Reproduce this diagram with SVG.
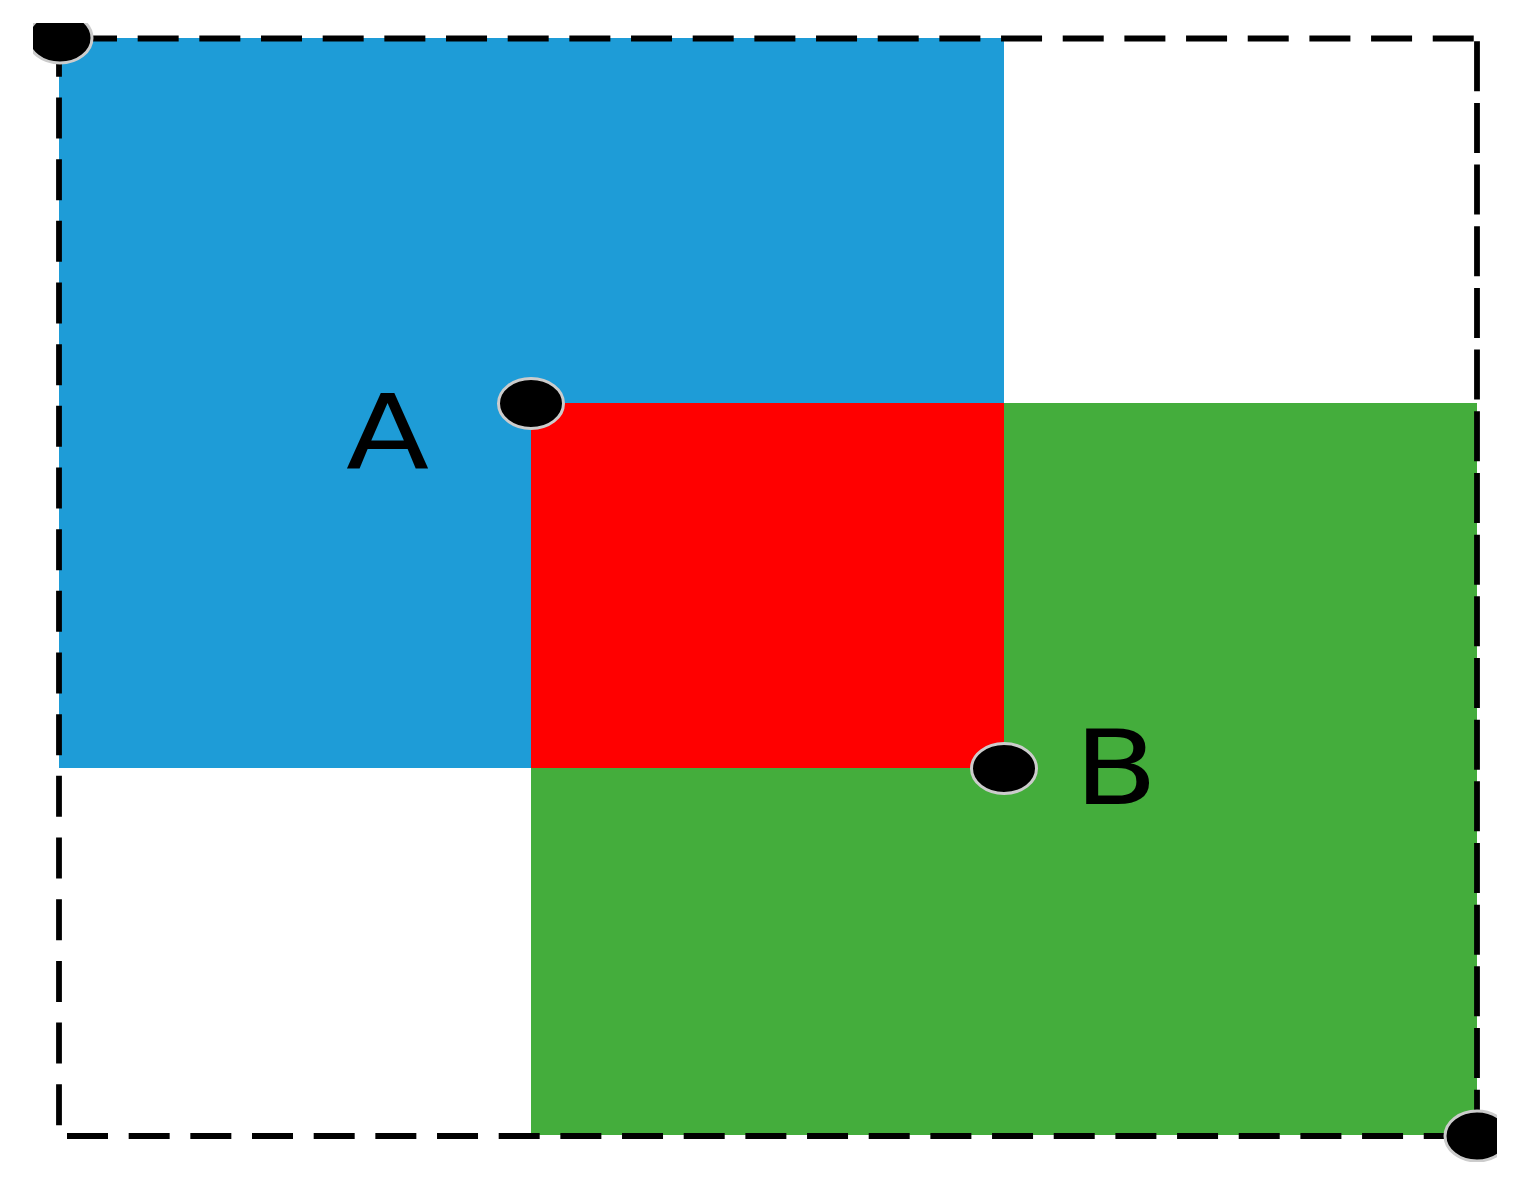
<svg xmlns="http://www.w3.org/2000/svg" width="1517" height="1186" viewBox="0 0 1517 1186">
<style>
.lbl{font-family:"DejaVu Sans",sans-serif;font-size:103px;fill:#000;text-anchor:middle}
.dot{fill:#000;stroke:#cccccc;stroke-width:3}
.dash{fill:none;stroke:#000;stroke-width:5.8;stroke-dasharray:41 20.67}
</style>
<defs>
<clipPath id="c"><rect x="33" y="23" width="1464" height="1139"/></clipPath>
</defs>
<rect width="1517" height="1186" fill="#fff"/>
<g id="blue"><rect x="59" y="38" width="945" height="730" fill="#1E9CD7"/></g>
<g id="green"><path d="M1004 403H1477V1135H531V768H1004Z" fill="#44AD3C"/></g>
<g id="red"><rect x="531" y="403" width="473" height="365" fill="#FF0000"/></g>
<g id="frame">
<line class="dash" x1="59" y1="38.5" x2="1477" y2="38.5" style="stroke-dashoffset:44.67"/>
<line class="dash" x1="59" y1="38.5" x2="59" y2="1136" style="stroke-dashoffset:2.67"/>
<line class="dash" x1="59" y1="1136" x2="1477" y2="1136" style="stroke-dashoffset:53.67"/>
<line class="dash" x1="1477" y1="38.5" x2="1477" y2="1136" style="stroke-dasharray:50 11.67;stroke-dashoffset:58.9"/>
</g>
<g id="connectors"></g>
<g id="dots" clip-path="url(#c)">
<ellipse class="dot" cx="60" cy="38" rx="32" ry="25"/>
<ellipse class="dot" cx="531" cy="403.5" rx="32.5" ry="25"/>
<ellipse class="dot" cx="1004" cy="768.5" rx="32.5" ry="25"/>
<ellipse class="dot" cx="1477" cy="1136" rx="32" ry="25"/>
</g>
<g id="labelA"><text class="lbl" transform="translate(387.5,468) scale(1.18,1)">A</text></g>
<g id="labelB"><text class="lbl" transform="translate(1116,804) scale(1.18,1)">B</text></g>
</svg>
